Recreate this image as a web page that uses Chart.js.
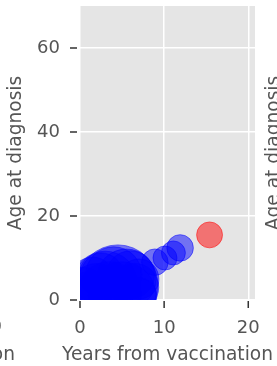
<!DOCTYPE html>
<html>
<head>
<meta charset="utf-8">
<script src="https://cdn.jsdelivr.net/npm/chart.js@4"></script>
<style>
  html, body { margin: 0; padding: 0; background: #fff; }
  #wrap { width: 277px; height: 366px; }
</style>
</head>
<body>
<div id="wrap"><canvas id="chart" width="277" height="366"></canvas></div>
<script>
// Vaccinated cases: years since vaccination vs age at diagnosis, bubble = case count
const blueYears = [4.5, 1.5, 3.0, 5.5, 6.5, 2.0, 1.0, 3.5, 5.0, 6.0, 7.0, 4.0, 0.5, 7.0, 2.5, 8.9, 10.1, 11.1, 11.9];
const blueAges  = [3.6, 5.0, 4.0, 5.0, 3.0, 2.0, 1.0, 1.5, 1.0, 6.0, 5.0, 6.0, 3.0, 1.0, 6.0, 9.0, 10.0, 11.2, 12.4];
const blueCases = [100, 30, 64, 56, 36, 49, 36, 64, 72, 36, 25, 49, 25, 20, 30, 11, 9, 9, 11];

// Unvaccinated / other group
const redYears = [15.4];
const redAges  = [15.5];
const redCases = [10.5];

const xTicks = [0, 10, 20];
const yTicks = [0, 20, 40, 60];

const FONT = 'DejaVu Sans';
const TEXT_GRAY = '#555555';
const TITLE_SIZE = 18.6;

function toPoints(xs, ys, cs) {
  return xs.map((x, i) => ({ x: x, y: ys[i], r: 4 * Math.sqrt(cs[i]) }));
}

// keep the scales from pushing the panel inwards for their edge labels
function noEdgePadding(scale) {
  scale.paddingTop = 0;
  scale.paddingBottom = 0;
  scale.paddingLeft = 0;
  scale.paddingRight = 0;
}

// grey panel behind the data
const panelBg = {
  id: 'panelBg',
  beforeDraw(chart) {
    const a = chart.chartArea;
    const ctx = chart.ctx;
    ctx.save();
    ctx.fillStyle = '#e5e5e5';
    ctx.fillRect(a.left, a.top, a.right - a.left, a.bottom - a.top);
    ctx.restore();
  }
};

// outward tick marks, x title, and the cut-off bits of the neighbour panels
const tickMarks = {
  id: 'tickMarks',
  afterDraw(chart) {
    const ctx = chart.ctx;
    const xs = chart.scales.x;
    const ys = chart.scales.y;
    const a = chart.chartArea;
    ctx.save();
    ctx.strokeStyle = '#333333';
    ctx.lineWidth = 1.5;
    ctx.beginPath();
    xTicks.forEach(v => {
      const px = xs.getPixelForValue(v);
      ctx.moveTo(px, a.bottom + 1);
      ctx.lineTo(px, a.bottom + 8);
    });
    yTicks.forEach(v => {
      const py = ys.getPixelForValue(v);
      ctx.moveTo(a.left - 10, py);
      ctx.lineTo(a.left - 3, py);
    });
    ctx.stroke();

    ctx.fillStyle = TEXT_GRAY;
    ctx.font = TITLE_SIZE + 'px "' + FONT + '"';
    ctx.textBaseline = 'middle';
    ctx.textAlign = 'center';
    ctx.fillText('Years from vaccination', (a.left + a.right) / 2, 355.5);
    ctx.textAlign = 'right';
    ctx.fillText('Years from vaccination', 15, 355.5);
    ctx.font = '18px "' + FONT + '"';
    ctx.fillText('20', 2, 327);
    ctx.font = TITLE_SIZE + 'px "' + FONT + '"';
    ctx.translate(274, (a.top + a.bottom) / 2);
    ctx.rotate(-Math.PI / 2);
    ctx.textAlign = 'center';
    ctx.fillText('Age at diagnosis', 0, 0);
    ctx.restore();
  }
};

new Chart(document.getElementById('chart'), {
  type: 'bubble',
  data: {
    datasets: [
      {
        data: toPoints(blueYears, blueAges, blueCases),
        backgroundColor: 'rgba(0, 0, 255, 0.5)',
        borderColor: 'rgba(0, 0, 255, 0.5)',
        borderWidth: 1
      },
      {
        data: toPoints(redYears, redAges, redCases),
        backgroundColor: 'rgba(255, 0, 0, 0.5)',
        borderColor: 'rgba(255, 0, 0, 0.5)',
        borderWidth: 1
      }
    ]
  },
  options: {
    responsive: false,
    animation: false,
    events: [],
    layout: { autoPadding: false, padding: { top: 6, right: 22, left: 0, bottom: 0 } },
    plugins: { legend: { display: false }, tooltip: { enabled: false } },
    scales: {
      x: {
        type: 'linear',
        min: 0,
        max: 20.8,
        afterFit(scale) { scale.height = 66; noEdgePadding(scale); },
        afterBuildTicks(scale) { scale.ticks = xTicks.map(v => ({ value: v })); },
        grid: { color: '#ffffff', lineWidth: 1.5, drawTicks: false },
        border: { display: false },
        ticks: {
          padding: 18,
          color: TEXT_GRAY,
          font: { family: FONT, size: 18 }
        }
      },
      y: {
        type: 'linear',
        min: 0,
        max: 70,
        afterFit(scale) { scale.width = 80; noEdgePadding(scale); },
        afterBuildTicks(scale) { scale.ticks = yTicks.map(v => ({ value: v })); },
        grid: { color: '#ffffff', lineWidth: 1.5, drawTicks: false },
        border: { display: false },
        ticks: {
          padding: 20,
          color: TEXT_GRAY,
          font: { family: FONT, size: 18 }
        },
        title: {
          display: true,
          text: 'Age at diagnosis',
          color: TEXT_GRAY,
          font: { family: FONT, size: TITLE_SIZE },
          padding: { top: 5, bottom: 0 }
        }
      }
    }
  },
  plugins: [panelBg, tickMarks]
});
</script>
</body>
</html>
